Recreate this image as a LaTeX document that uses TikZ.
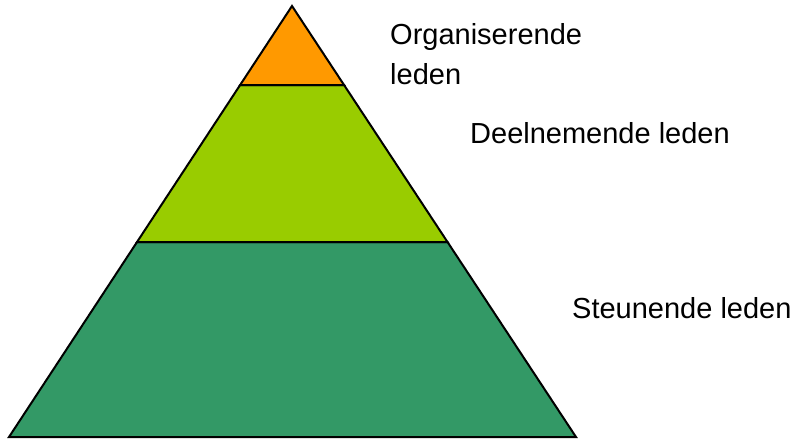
\documentclass[tikz,border=0pt]{standalone}
\usepackage{fontspec}
\setmainfont{Liberation Sans}
\usetikzlibrary{calc}
\definecolor{toporange}{HTML}{FF9900}
\definecolor{midgreen}{HTML}{99CC00}
\definecolor{basegreen}{HTML}{339966}

\begin{document}
\begin{tikzpicture}[x=1pt,y=-1pt,
  layer/.style={draw=black,line width=2pt,line join=miter},
  tiertext/.style={inner sep=0pt,anchor=base west,align=left,
                   font=\fontsize{29}{40}\selectfont}]
\useasboundingbox (0,0) rectangle (795,439);
\coordinate (T) at (292,6);
\coordinate (L) at (9,437);
\coordinate (R) at (576,437);
\coordinate (L1) at ($(T)!0.1833!(L)$);
\coordinate (R1) at ($(T)!0.1833!(R)$);
\coordinate (L2) at ($(T)!0.5476!(L)$);
\coordinate (R2) at ($(T)!0.5476!(R)$);
% pyramid layers
\filldraw[layer,fill=basegreen] (L2) -- (R2) -- (R) -- (L) -- cycle;
\filldraw[layer,fill=midgreen]  (L1) -- (R1) -- (R2) -- (L2) -- cycle;
\filldraw[layer,fill=toporange] (T) -- (R1) -- (L1) -- cycle;
% texts
\node[tiertext] (org)  at (390,84)  {Organiserende\\leden};
\node[tiertext] (deel) at (470,143) {Deelnemende leden};
\node[tiertext] (steun) at (572,318) {Steunende leden};
\end{tikzpicture}
\end{document}
